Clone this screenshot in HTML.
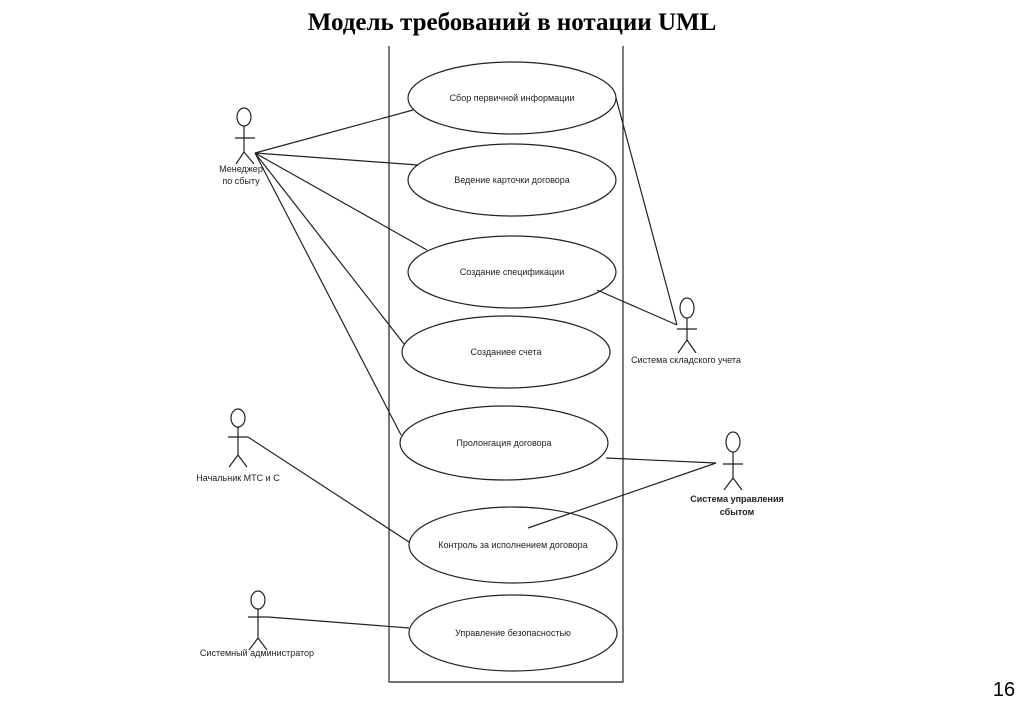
<!DOCTYPE html>
<html><head><meta charset="utf-8"><style>
body{margin:0;background:#fff;width:1024px;height:708px;overflow:hidden}
svg{display:block}
.t{font-family:"Liberation Sans",sans-serif;font-size:9px;fill:#222;text-anchor:middle}
</style></head><body>
<svg width="1024" height="708" viewBox="0 0 1024 708">
<text x="512" y="30" font-family="Liberation Serif,serif" font-weight="bold" font-size="25" text-anchor="middle" fill="#000">Модель требований в нотации UML</text>
<text x="1004" y="696" font-family="Liberation Sans,sans-serif" font-size="20" text-anchor="middle" fill="#000">16</text>
<g stroke="#222" stroke-width="1.2" fill="none">
<path d="M389 46V682H623V46"/>
<ellipse cx="512" cy="98" rx="104" ry="36" fill="#fff"/>
<ellipse cx="512" cy="180" rx="104" ry="36" fill="#fff"/>
<ellipse cx="512" cy="272" rx="104" ry="36" fill="#fff"/>
<ellipse cx="506" cy="352" rx="104" ry="36" fill="#fff"/>
<ellipse cx="504" cy="443" rx="104" ry="37" fill="#fff"/>
<ellipse cx="513" cy="545" rx="104" ry="38" fill="#fff"/>
<ellipse cx="513" cy="633" rx="104" ry="38" fill="#fff"/>
<path d="M255 153L413 110M255 153L418 165M255 153L427 250M255 153L404 344M255 153L401 435"/>
<path d="M248 437L409 542M268 617L409 628"/>
<path d="M616 98L677 325M597 290L677 325"/>
<path d="M606 458L716 463M528 528L716 463"/>
<!-- actors -->
<ellipse cx="244" cy="117" rx="7" ry="9"/><path d="M235 138H255M244 126V152L236 164M244 152L254 164"/>
<ellipse cx="238" cy="418" rx="7" ry="9"/><path d="M228 437H248M238 427V455L229 467M238 455L247 467"/>
<ellipse cx="258" cy="600" rx="7" ry="9"/><path d="M248 617H268M258 609V638L249 650M258 638L267 650"/>
<ellipse cx="687" cy="308" rx="7" ry="10"/><path d="M677 329H697M687 318V340L678 353M687 340L696 353"/>
<ellipse cx="733" cy="442" rx="7" ry="10"/><path d="M723 464H743M733 452V478L724 490M733 478L742 490"/>
</g>
<g class="t">
<text x="512" y="101">Сбор первичной информации</text>
<text x="512" y="183">Ведение карточки договора</text>
<text x="512" y="275">Создание спецификации</text>
<text x="506" y="355">Созданиее счета</text>
<text x="504" y="446">Пролонгация договора</text>
<text x="513" y="548">Контроль за исполнением договора</text>
<text x="513" y="636">Управление безопасностью</text>
<text x="241" y="172">Менеджер</text>
<text x="241" y="184">по сбыту</text>
<text x="238" y="481">Начальник МТС и С</text>
<text x="257" y="656">Системный администратор</text>
<text x="686" y="363">Система складского учета</text>
<text x="737" y="502" font-weight="bold">Система управления</text>
<text x="737" y="515" font-weight="bold">сбытом</text>
</g>
</svg>
</body></html>
